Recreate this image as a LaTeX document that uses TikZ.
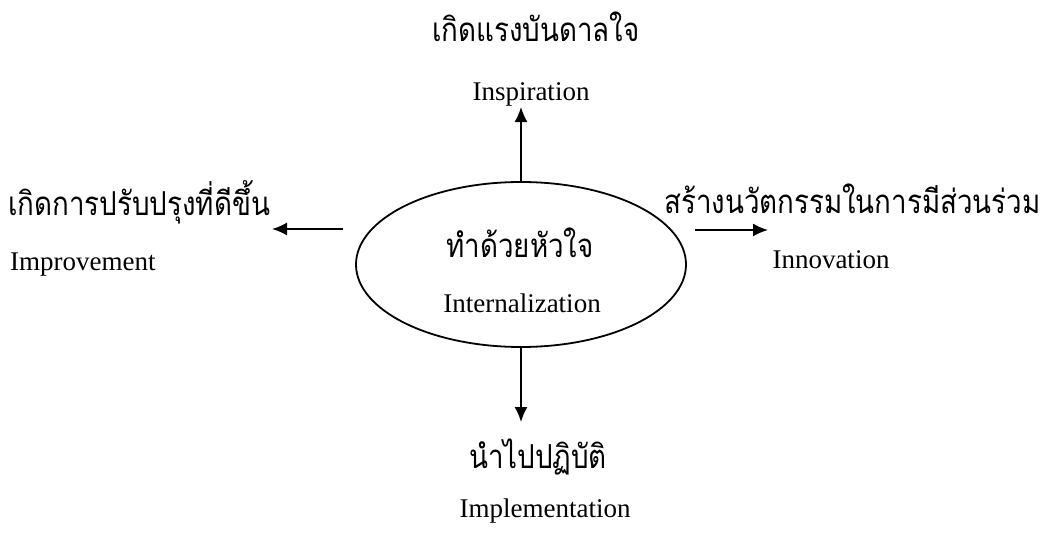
\documentclass[tikz,border=0pt]{standalone}
\usepackage{fontspec}
\setmainfont{Liberation Serif}
\newfontfamily\thaifont[Script=Thai,FakeStretch=0.84]{Loma}
\usetikzlibrary{arrows.meta,shapes.geometric}
\begin{document}
\begin{tikzpicture}[x=1pt,y=-1pt,
  th/.style={font=\thaifont\fontsize{33}{38}\selectfont, inner sep=0pt, anchor=base},
  en/.style={font=\fontsize{27}{31}\selectfont, inner sep=0pt, anchor=base},
  arr/.style={line width=1.8pt, -{Latex[length=15pt,width=13pt]}},
  core/.style={draw, ellipse, line width=1.8pt, minimum width=330pt, minimum height=165pt, inner sep=0pt}]
\useasboundingbox (0,0) rectangle (1045,543);
\node[core] (c) at (521,264.5) {};
% centre texts
\node[th] (cth) at (520,257) {ทำด้วยหัวใจ};
\node[en] (cen) at (522,312) {Internalization};
% top
\node[th] (tth) at (536,42) {เกิดแรงบันดาลใจ};
\node[en] (ten) at (531,100) {Inspiration};
% bottom
\node[th] (bth) at (538,468) {นำไปปฏิบัติ};
\node[en] (ben) at (545,517) {Implementation};
% left
\node[th, anchor=base west] (lth) at (8,215) {เกิดการปรับปรุงที่ดีขึ้น};
\node[en, anchor=base west] (len) at (10,270) {Improvement};
% right
\node[th, anchor=base west] (rth) at (664,213) {สร้างนวัตกรรมในการมีส่วนร่วม};
\node[en] (ren) at (831,268) {Innovation};
% arrow ends
\coordinate (ls) at (343,229);
\coordinate (lt) at (272,229);
\coordinate (rs) at (695,230);
\coordinate (rt) at (768,230);
\coordinate (ut) at (c.north |- 0,107);
\coordinate (dt) at (c.south |- 0,422);
\draw[arr] (c.north) -- (ut);
\draw[arr] (c.south) -- (dt);
\draw[arr] (ls) -- (lt);
\draw[arr] (rs) -- (rt);
\end{tikzpicture}
\end{document}
